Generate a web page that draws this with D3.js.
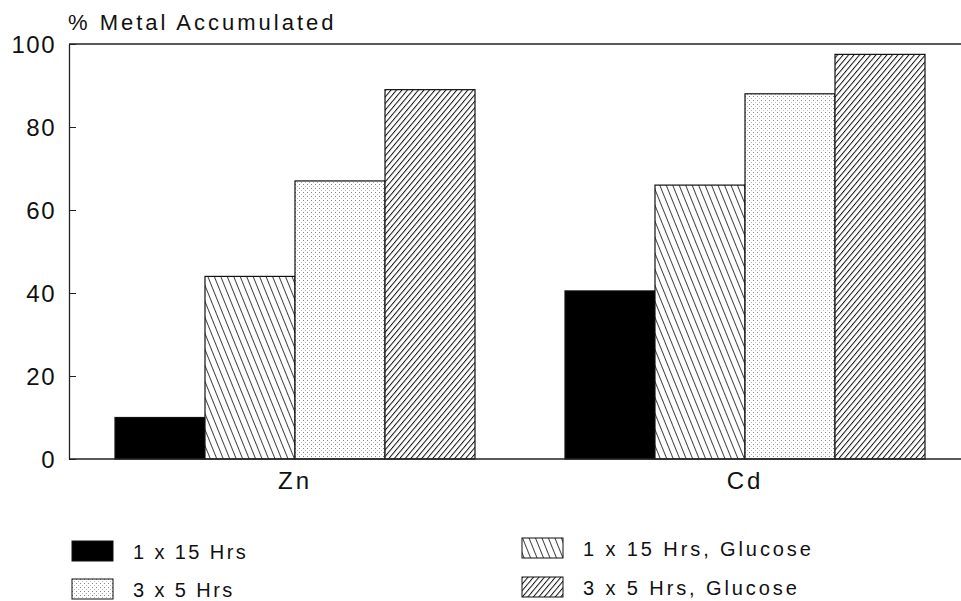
<!DOCTYPE html>
<html>
<head>
<meta charset="utf-8">
<script src="https://cdn.jsdelivr.net/npm/d3@7"></script>
<style>
	body { margin: 0; background: #fff; }
	text { font-family: "Liberation Sans", Arial, sans-serif; fill: #111; }
</style>
</head>
<body>
<svg id="chart" width="961" height="601"></svg>
<script>
// data
let metals = ['Zn', 'Cd'];
let treatments = ['1 x 15 Hrs', '1 x 15 Hrs, Glucose', '3 x 5 Hrs', '3 x 5 Hrs, Glucose'];
let znValues = [10, 44, 67, 89];
let cdValues = [40.5, 66, 88, 97.5];
let yTicks = [0, 20, 40, 60, 80, 100];

let fills = ['#000', 'url(#hatchBack)', 'url(#stipple)', 'url(#hatchFwd)'];

var svg = d3.select('#chart');
var plotLeft = 69, plotRight = 961, plotTop = 44, plotBottom = 459;

var defs = svg.append('defs');
// wide back-slash hatch, steep
var p1 = defs.append('pattern').attr('id', 'hatchBack')
	.attr('patternUnits', 'userSpaceOnUse').attr('width', 6).attr('height', 6)
	.attr('patternTransform', 'rotate(-22)');
p1.append('rect').attr('width', 6).attr('height', 6).attr('fill', '#fff');
p1.append('line').attr('x1', 0).attr('y1', 0).attr('x2', 0).attr('y2', 6)
	.attr('stroke', '#111').attr('stroke-width', 1.6);
// dense forward-slash hatch
var p2 = defs.append('pattern').attr('id', 'hatchFwd')
	.attr('patternUnits', 'userSpaceOnUse').attr('width', 4.2).attr('height', 4.2)
	.attr('patternTransform', 'rotate(40)');
p2.append('rect').attr('width', 4.2).attr('height', 4.2).attr('fill', '#fff');
p2.append('line').attr('x1', 0).attr('y1', 0).attr('x2', 0).attr('y2', 4.2)
	.attr('stroke', '#111').attr('stroke-width', 2);
// stipple
var p3 = defs.append('pattern').attr('id', 'stipple')
	.attr('patternUnits', 'userSpaceOnUse').attr('width', 4).attr('height', 4);
p3.append('rect').attr('width', 4).attr('height', 4).attr('fill', '#fff');
p3.append('rect').attr('x', 0).attr('y', 0).attr('width', 1).attr('height', 1).attr('fill', '#888');
p3.append('rect').attr('x', 2).attr('y', 2).attr('width', 1).attr('height', 1).attr('fill', '#bbb');

var x0 = d3.scaleBand().domain(metals).range([70, 970]).paddingInner(0.2).paddingOuter(0.1);
var x1 = d3.scaleBand().domain(treatments).range([0, x0.bandwidth()]);
var y = d3.scaleLinear().domain([0, 100]).range([plotBottom, plotTop]);

var data = metals.map(function(m, i){
	var vals = i == 0 ? znValues : cdValues;
	return {metal: m, vals: treatments.map(function(t, j){ return {t: t, v: vals[j], f: fills[j]}; })};
});

// bars
var g = svg.selectAll('g.grp').data(data).enter().append('g')
	.attr('class', 'grp')
	.attr('transform', function(d){ return 'translate(' + x0(d.metal) + ',0)'; });
g.selectAll('rect').data(function(d){ return d.vals; }).enter().append('rect')
	.attr('x', function(d){ return x1(d.t); })
	.attr('y', function(d){ return y(d.v); })
	.attr('width', x1.bandwidth())
	.attr('height', function(d){ return y(0) - y(d.v); })
	.attr('fill', function(d){ return d.f; })
	.attr('stroke', '#111').attr('stroke-width', 1.2);

// frame lines: top and bottom
svg.append('line').attr('x1', plotLeft).attr('x2', plotRight).attr('y1', plotTop).attr('y2', plotTop)
	.attr('stroke', '#222').attr('stroke-width', 1.3);
svg.append('line').attr('x1', plotLeft).attr('x2', plotRight).attr('y1', plotBottom).attr('y2', plotBottom)
	.attr('stroke', '#222').attr('stroke-width', 1.3);

// y axis, ticks pointing inward
var yAxis = svg.append('g').attr('transform', 'translate(' + plotLeft + ',0)')
	.call(d3.axisRight(y).tickValues(yTicks).tickSize(7).tickSizeOuter(0).tickFormat(''));
yAxis.select('.domain').attr('stroke', '#222').attr('stroke-width', 1.3);
yAxis.selectAll('line').attr('stroke', '#222');
svg.selectAll('text.ytick').data(yTicks).enter().append('text')
	.attr('class', 'ytick')
	.attr('x', 56).attr('y', function(d){ return y(d); })
	.attr('dy', '0.36em')
	.attr('text-anchor', 'end')
	.style('font-size', '24px').style('letter-spacing', '1.5px')
	.text(function(d){ return d; });

// category labels
svg.selectAll('text.cat').data(metals).enter().append('text')
	.attr('class', 'cat')
	.attr('x', function(d){ return x0(d) + x0.bandwidth() / 2; })
	.attr('y', 489)
	.attr('text-anchor', 'middle')
	.style('font-size', '24px').style('letter-spacing', '3px')
	.text(function(d){ return d; });

// title
svg.append('text').attr('x', 68).attr('y', 30)
	.style('font-size', '22px').style('letter-spacing', '3px')
	.text('% Metal Accumulated');

// legend
var legendPos = [[72, 541], [522, 538], [72, 579], [522, 577]];
var leg = svg.selectAll('g.leg').data(treatments).enter().append('g')
	.attr('class', 'leg')
	.attr('transform', function(d, i){ return 'translate(' + legendPos[i][0] + ',' + legendPos[i][1] + ')'; });
leg.append('rect').attr('width', 41).attr('height', 20)
	.attr('fill', function(d, i){ return fills[i]; })
	.attr('stroke', '#111').attr('stroke-width', 1);
leg.append('text').attr('x', 61).attr('y', 18)
	.style('font-size', '20px').style('letter-spacing', function(d, i){ return i % 2 ? '2.9px' : '2.4px'; })
	.text(function(d){ return d; });
</script>
</body>
</html>
